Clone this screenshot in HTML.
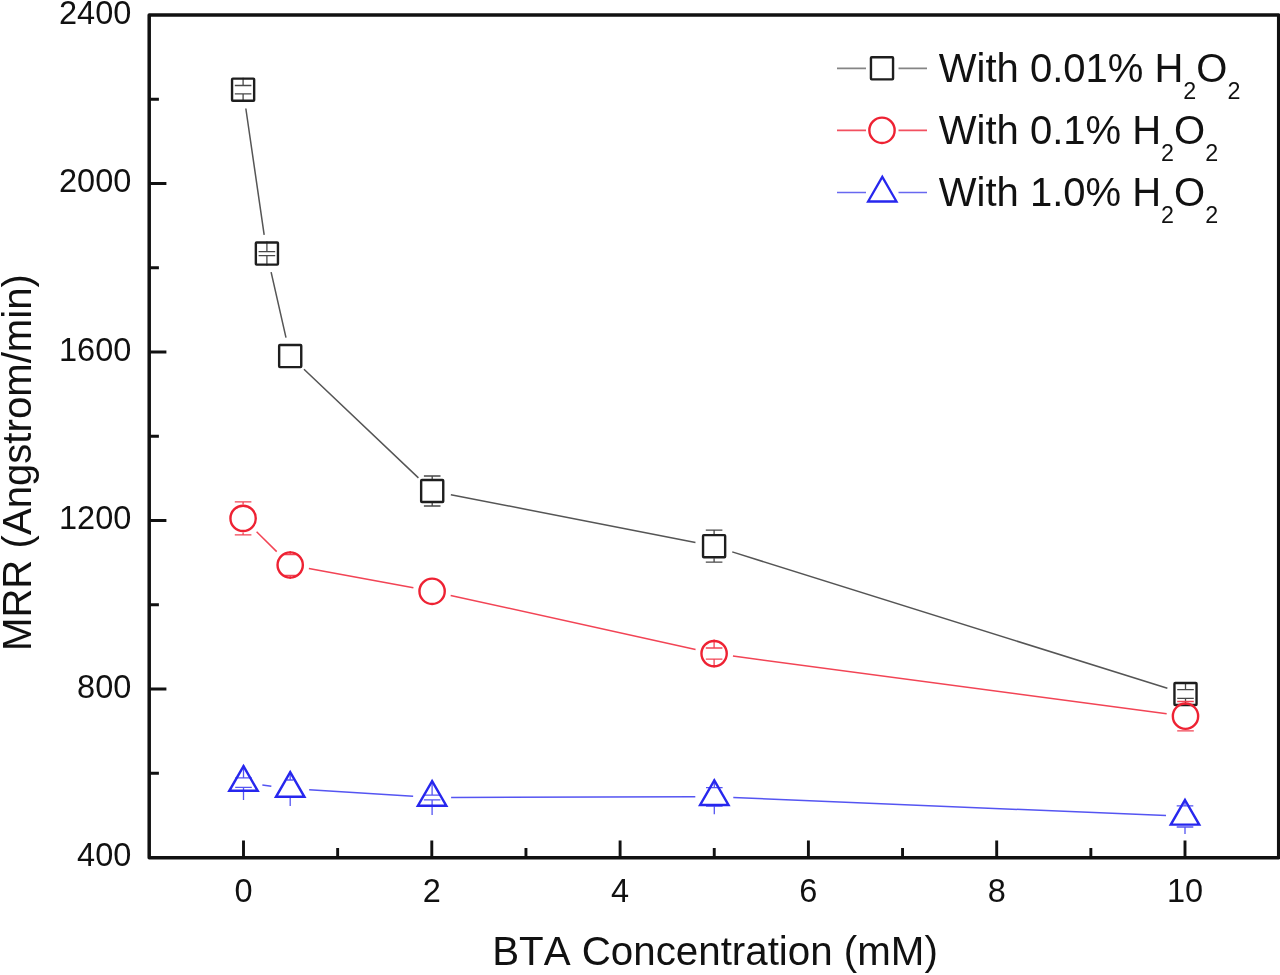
<!DOCTYPE html>
<html lang="en"><head><meta charset="utf-8"><title>MRR vs BTA Concentration</title>
<style>html,body{margin:0;padding:0;background:#fff;width:1280px;height:975px;overflow:hidden}text{font-kerning:none}</style>
</head><body>
<svg width="1280" height="975" viewBox="0 0 1280 975" style="position:absolute;left:0;top:0">
<rect x="0" y="0" width="1280" height="975" fill="#fff"/>
<g fill="none" stroke="#111" stroke-width="3.5" stroke-linecap="butt" stroke-linejoin="round">
<path d="M149.2 15H1278.7V857.7H149.2Z"/>
</g>
<path d="M243.50 857.5v-17.0 M337.65 857.5v-9.5 M431.80 857.5v-17.0 M525.95 857.5v-9.5 M620.10 857.5v-17.0 M714.25 857.5v-9.5 M808.40 857.5v-17.0 M902.55 857.5v-9.5 M996.70 857.5v-17.0 M1090.85 857.5v-9.5 M1185.00 857.5v-17.0 M149.4 773.25h9.5 M149.4 689.00h17.0 M149.4 604.75h9.5 M149.4 520.50h17.0 M149.4 436.25h9.5 M149.4 352.00h17.0 M149.4 267.75h9.5 M149.4 183.50h17.0 M149.4 99.25h9.5" fill="none" stroke="#111" stroke-width="2.9"/>
<g font-family="'Liberation Sans', Arial, sans-serif" font-size="32.5" fill="#111">
<text x="131.3" y="866.30" text-anchor="end">400</text>
<text x="131.3" y="697.80" text-anchor="end">800</text>
<text x="131.3" y="529.30" text-anchor="end">1200</text>
<text x="131.3" y="360.80" text-anchor="end">1600</text>
<text x="131.3" y="192.30" text-anchor="end">2000</text>
<text x="131.3" y="23.80" text-anchor="end">2400</text>
<text x="243.50" y="901.7" text-anchor="middle">0</text>
<text x="431.80" y="901.7" text-anchor="middle">2</text>
<text x="620.10" y="901.7" text-anchor="middle">4</text>
<text x="808.40" y="901.7" text-anchor="middle">6</text>
<text x="996.70" y="901.7" text-anchor="middle">8</text>
<text x="1185.00" y="901.7" text-anchor="middle">10</text>
</g>
<g font-family="'Liberation Sans', Arial, sans-serif" fill="#111">
<text x="715" y="965" font-size="40.3" text-anchor="middle">BTA Concentration (mM)</text>
<text transform="translate(31 462.6) rotate(-90)" font-size="40.15" text-anchor="middle">MRR (Angstrom/min)</text>
</g>
<path d="M245.83 108.50L264.17 234.80 M271.11 272.13L285.99 337.57 M303.97 369.19L418.43 477.91 M450.85 494.65L695.45 542.55 M732.23 551.88L1167.37 688.32" fill="none" stroke="#555" stroke-width="1.5"/>
<path d="M234.80 85.50h16.6 M243.10 85.50V77.70 M234.80 93.90h16.6 M243.10 93.90V101.70 M258.60 251.60h16.6 M266.90 251.60V241.60 M258.60 255.60h16.6 M266.90 255.60V265.60 M423.90 476.00h16.6 M432.20 476.00V479.00 M423.90 506.00h16.6 M432.20 506.00V503.00 M705.80 530.20h16.6 M714.10 530.20V534.20 M705.80 562.20h16.6 M714.10 562.20V558.20 M1177.20 689.70h16.6 M1185.50 689.70V682.00 M1177.20 698.30h16.6 M1185.50 698.30V706.00" fill="none" stroke="#484848" stroke-width="1.3"/>
<rect x="232.05" y="78.65" width="22.1" height="22.1" rx="0.8" fill="none" stroke="#1e1e1e" stroke-width="2.4"/>
<rect x="255.85" y="242.55" width="22.1" height="22.1" rx="0.8" fill="none" stroke="#1e1e1e" stroke-width="2.4"/>
<rect x="279.15" y="345.05" width="22.1" height="22.1" rx="0.8" fill="none" stroke="#1e1e1e" stroke-width="2.4"/>
<rect x="421.15" y="479.95" width="22.1" height="22.1" rx="0.8" fill="none" stroke="#1e1e1e" stroke-width="2.4"/>
<rect x="703.05" y="535.15" width="22.1" height="22.1" rx="0.8" fill="none" stroke="#1e1e1e" stroke-width="2.4"/>
<rect x="1174.45" y="682.95" width="22.1" height="22.1" rx="0.8" fill="none" stroke="#1e1e1e" stroke-width="2.4"/>
<path d="M256.61 531.76L276.69 551.64 M308.88 568.46L413.42 587.84 M450.65 595.40L695.55 649.50 M732.93 656.10L1166.67 713.70" fill="none" stroke="#f24455" stroke-width="1.5"/>
<path d="M234.80 501.90h16.6 M243.10 501.90V504.40 M234.80 534.90h16.6 M243.10 534.90V532.40 M281.90 554.60h16.6 M290.20 554.60V551.00 M281.90 575.40h16.6 M290.20 575.40V579.00 M705.80 648.00h16.6 M714.10 648.00V639.60 M705.80 659.20h16.6 M714.10 659.20V667.60 M1177.20 701.50h16.6 M1185.50 701.50V702.20 M1177.20 730.90h16.6 M1185.50 730.90V730.20" fill="none" stroke="#f24455" stroke-width="1.3"/>
<circle cx="243.10" cy="518.40" r="12.65" fill="none" stroke="#ee2233" stroke-width="2.4"/>
<circle cx="290.20" cy="565.00" r="12.65" fill="none" stroke="#ee2233" stroke-width="2.4"/>
<circle cx="432.10" cy="591.30" r="12.65" fill="none" stroke="#ee2233" stroke-width="2.4"/>
<circle cx="714.10" cy="653.60" r="12.65" fill="none" stroke="#ee2233" stroke-width="2.4"/>
<circle cx="1185.50" cy="716.20" r="12.65" fill="none" stroke="#ee2233" stroke-width="2.4"/>
<path d="M262.35 785.02L271.35 786.18 M309.16 789.79L413.14 796.31 M451.10 797.45L695.30 796.85 M733.28 797.59L1166.02 815.61" fill="none" stroke="#5555f2" stroke-width="1.5"/>
<path d="M235.20 777.80h16.6 M243.50 777.80V765.10 M235.20 787.40h16.6 M243.50 787.40V800.10 M287.00 780.00h6.4 M290.20 780.00V771.10 M281.90 797.20h16.6 M290.20 797.20V806.10 M423.80 795.20h16.6 M432.10 795.20V780.00 M423.80 799.80h16.6 M432.10 799.80V815.00 M706.00 787.60h16.6 M714.30 787.60V779.30 M706.00 806.00h16.6 M714.30 806.00V814.30 M1176.70 805.80h16.6 M1185.00 805.80V798.90 M1176.70 827.00h16.6 M1185.00 827.00V833.90" fill="none" stroke="#5555f2" stroke-width="1.3"/>
<path d="M243.50 766.20L257.70 790.80H229.30Z" fill="none" stroke="#2727ee" stroke-width="2.45" stroke-linejoin="miter"/>
<path d="M290.20 772.20L304.40 796.80H276.00Z" fill="none" stroke="#2727ee" stroke-width="2.45" stroke-linejoin="miter"/>
<path d="M432.10 781.10L446.30 805.70H417.90Z" fill="none" stroke="#2727ee" stroke-width="2.45" stroke-linejoin="miter"/>
<path d="M714.30 780.40L728.50 805.00H700.10Z" fill="none" stroke="#2727ee" stroke-width="2.45" stroke-linejoin="miter"/>
<path d="M1185.00 800.00L1199.20 824.60H1170.80Z" fill="none" stroke="#2727ee" stroke-width="2.45" stroke-linejoin="miter"/>
<path d="M837 68.3H866M898.5 68.3H927" stroke="#858585" stroke-width="1.7" fill="none"/>
<rect x="870.95" y="57.25" width="22.1" height="22.1" rx="0.8" fill="none" stroke="#1e1e1e" stroke-width="2.4"/>
<text x="938.8" y="82.1" font-family="'Liberation Sans', Arial, sans-serif" font-size="40" fill="#111">With 0.01% H<tspan font-size="23.3" dy="16.4">2</tspan><tspan dy="-16.4">O</tspan><tspan font-size="23.3" dy="16.4">2</tspan></text>
<path d="M837 130.3H866M898.5 130.3H927" stroke="#f25060" stroke-width="1.7" fill="none"/>
<circle cx="882.00" cy="130.30" r="12.65" fill="none" stroke="#ee2233" stroke-width="2.4"/>
<text x="938.8" y="144.1" font-family="'Liberation Sans', Arial, sans-serif" font-size="40" fill="#111">With 0.1% H<tspan font-size="23.3" dy="16.4">2</tspan><tspan dy="-16.4">O</tspan><tspan font-size="23.3" dy="16.4">2</tspan></text>
<path d="M837 192.5H866M898.5 192.5H927" stroke="#6868f0" stroke-width="1.7" fill="none"/>
<path d="M882.30 176.90L896.50 201.50H868.10Z" fill="none" stroke="#2727ee" stroke-width="2.3" stroke-linejoin="miter"/>
<text x="938.8" y="206.3" font-family="'Liberation Sans', Arial, sans-serif" font-size="40" fill="#111">With 1.0% H<tspan font-size="23.3" dy="16.4">2</tspan><tspan dy="-16.4">O</tspan><tspan font-size="23.3" dy="16.4">2</tspan></text>
</svg>
</body></html>
